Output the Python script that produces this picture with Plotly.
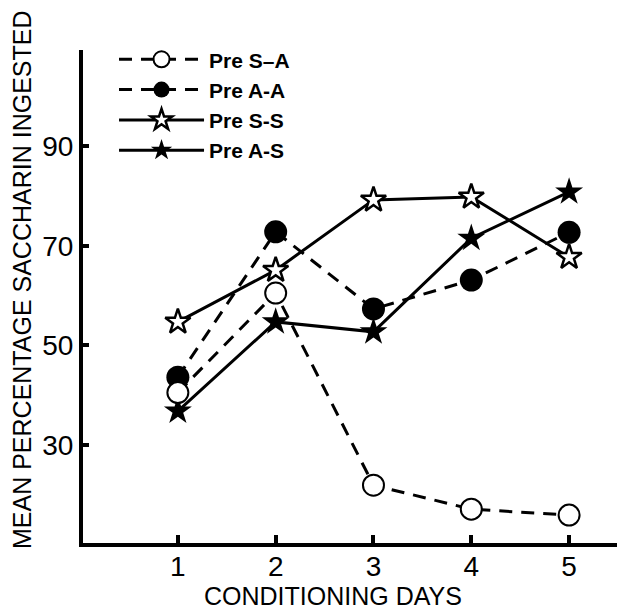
import plotly.graph_objects as go

days = [1, 2, 3, 4, 5]
pre_s_a = [40.5, 60.5, 21.9, 17.1, 15.9]
pre_a_a = [43.6, 72.8, 57.3, 63.1, 72.7]
pre_s_s = [54.7, 65.1, 79.2, 79.8, 67.7]
pre_a_s = [36.8, 54.7, 52.7, 71.5, 80.8]

x_tick_vals = [1, 2, 3, 4, 5]
y_tick_vals = [30, 50, 70, 90]

REG = "Liberation Sans, Arial, sans-serif"

fig = go.Figure()

fig.add_trace(go.Scatter(
    x=days, y=pre_s_s, name="<b>Pre S-S</b>", mode="lines+markers", legendrank=3,
    line=dict(color="black", width=3),
    marker=dict(symbol="star", size=19, color="white", line=dict(color="black", width=2.5)),
))
fig.add_trace(go.Scatter(
    x=days, y=pre_a_s, name="<b>Pre A-S</b>", mode="lines+markers", legendrank=4,
    line=dict(color="black", width=3),
    marker=dict(symbol="star", size=21, color="black", line=dict(color="black", width=0)),
))
fig.add_trace(go.Scatter(
    x=days, y=pre_a_a, name="<b>Pre A-A</b>", mode="lines+markers", legendrank=2,
    line=dict(color="black", width=3, dash="13px,9px"),
    marker=dict(symbol="circle", size=23, color="black", line=dict(color="black", width=0)),
))
fig.add_trace(go.Scatter(
    x=days, y=pre_s_a, name="<b>Pre S–A</b>", mode="lines+markers", legendrank=1,
    line=dict(color="black", width=3, dash="13px,9px"),
    marker=dict(symbol="circle", size=21, color="white", line=dict(color="black", width=2)),
))

# page body has an 8px default margin, so the figure is sized/offset to compensate
fig.update_layout(
    width=617, height=604,
    margin=dict(l=75, r=7, t=42, b=69),
    paper_bgcolor="white", plot_bgcolor="white",
    showlegend=True,
    legend=dict(
        x=0.058, y=1.022, xanchor="left", yanchor="top",
        font=dict(family=REG, size=21, color="black"),
        bgcolor="rgba(0,0,0,0)", itemwidth=85, tracegroupgap=0,
    ),
    xaxis=dict(
        range=[0.03, 5.5], tickvals=x_tick_vals, ticktext=[str(v) for v in x_tick_vals],
        showline=True, linecolor="black", linewidth=4,
        ticks="inside", ticklen=8, tickwidth=4, tickcolor="black",
        showgrid=False, zeroline=False, ticklabelstandoff=-5,
        tickfont=dict(family=REG, size=28, color="black"),
    ),
    yaxis=dict(
        range=[10.3, 109.3], tickvals=y_tick_vals, ticktext=[str(v) for v in y_tick_vals],
        showline=True, linecolor="black", linewidth=4,
        ticks="inside", ticklen=6, tickwidth=4, tickcolor="black",
        showgrid=False, zeroline=False,
        tickfont=dict(family=REG, size=28, color="black"),
    ),
    annotations=[
        dict(text="CONDITIONING DAYS", xref="paper", yref="paper",
             x=(333 - 83) / 535, y=0, yshift=-53, xanchor="center", yanchor="middle",
             showarrow=False, font=dict(family=REG, size=25, color="black")),
        dict(text="MEAN PERCENTAGE SACCHARIN INGESTED", xref="paper", yref="paper",
             x=0, xshift=-61, y=1 - (280 - 50) / 493, xanchor="center", yanchor="middle",
             textangle=-90, showarrow=False,
             font=dict(family=REG, size=25, color="black")),
    ],
)

fig.write_html("out.html")
